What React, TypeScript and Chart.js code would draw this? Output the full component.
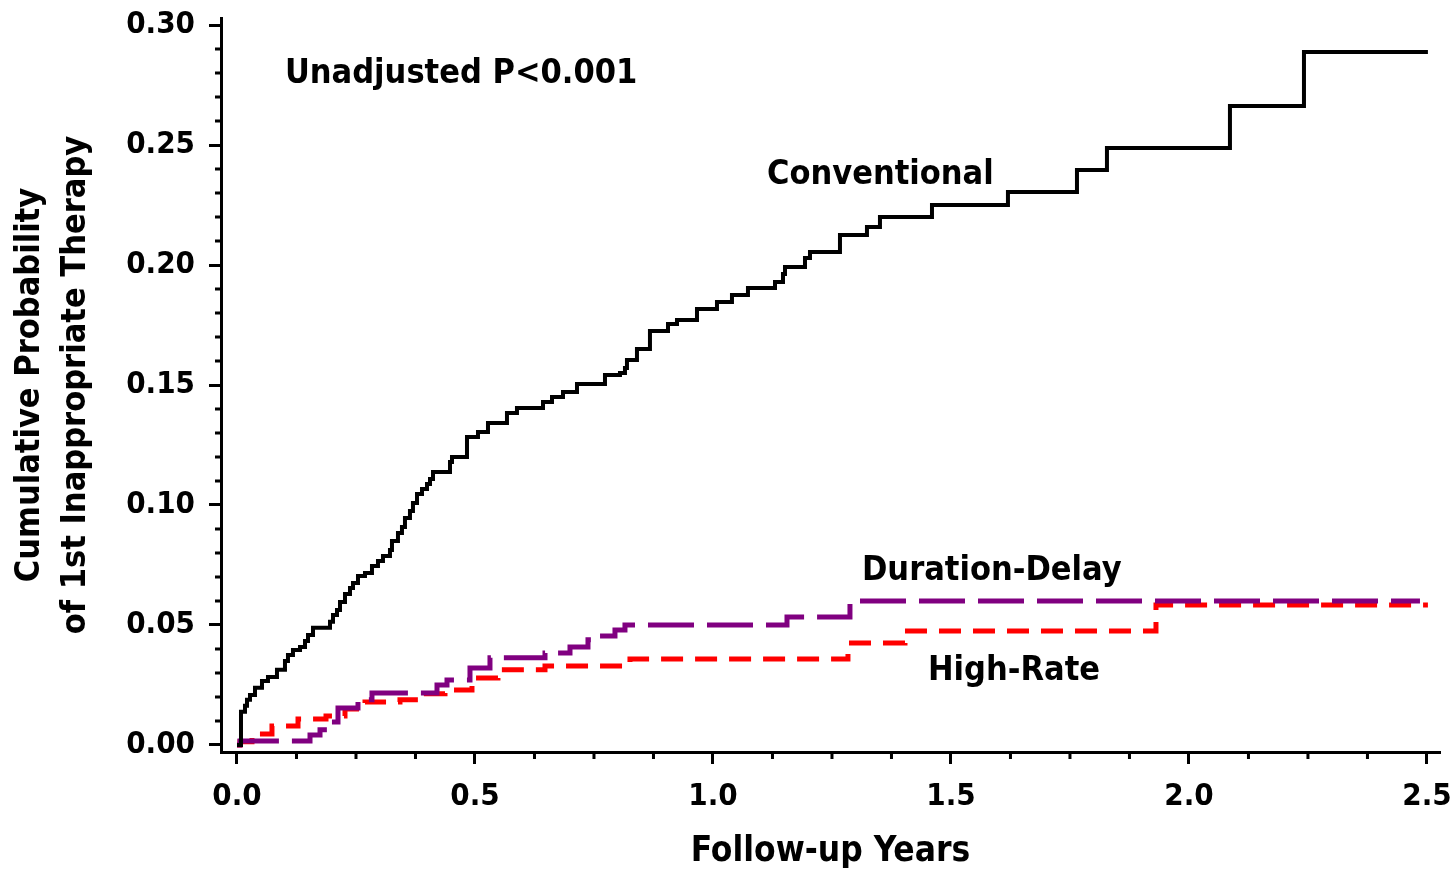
import React, { useEffect, useRef } from 'react';
import { Chart, registerables } from 'chart.js';

Chart.register(...registerables);

// ---------- data ----------
const conventionalTime = [0, 0.0084, 0.0168, 0.021, 0.0273, 0.0378, 0.0525, 0.0651, 0.084, 0.1008, 0.1071, 0.1176, 0.1324, 0.1429, 0.1492, 0.1597, 0.1954, 0.2017, 0.2101, 0.2164, 0.2269, 0.2374, 0.2437, 0.2542, 0.2689, 0.2836, 0.2962, 0.3067, 0.3214, 0.3256, 0.3382, 0.3466, 0.3529, 0.3634, 0.3697, 0.3782, 0.3887, 0.3992, 0.4055, 0.4118, 0.4475, 0.4517, 0.4832, 0.5063, 0.5273, 0.5672, 0.5882, 0.6429, 0.6618, 0.6849, 0.7143, 0.7731, 0.8046, 0.8151, 0.8193, 0.8403, 0.8676, 0.9055, 0.9244, 0.9664, 1.0084, 1.0399, 1.0735, 1.1303, 1.1471, 1.1513, 1.1933, 1.2038, 1.2668, 1.3235, 1.3508, 1.4601, 1.6197, 1.7647, 1.8277, 2.0861, 2.2416, 2.502];
const conventionalProb = [0, 0.0138, 0.0163, 0.0188, 0.0208, 0.0238, 0.0267, 0.0283, 0.0313, 0.035, 0.0375, 0.0396, 0.0408, 0.0433, 0.0458, 0.0488, 0.0513, 0.0542, 0.0563, 0.0596, 0.0629, 0.0654, 0.0675, 0.0704, 0.0717, 0.0746, 0.0767, 0.0788, 0.0813, 0.085, 0.0883, 0.0908, 0.0946, 0.0975, 0.1008, 0.1046, 0.1067, 0.1088, 0.1108, 0.1138, 0.1179, 0.12, 0.1283, 0.1304, 0.1342, 0.1383, 0.1404, 0.1429, 0.145, 0.1471, 0.1504, 0.1542, 0.155, 0.1571, 0.1604, 0.165, 0.1725, 0.1754, 0.1771, 0.1817, 0.1846, 0.1875, 0.1904, 0.1929, 0.1963, 0.1992, 0.2029, 0.2054, 0.2125, 0.2158, 0.22, 0.225, 0.2304, 0.2396, 0.2488, 0.2663, 0.2888, 0.2888];

const durationDelayTime = [0, 0.0063, 0.1534, 0.1744, 0.1891, 0.2122, 0.2542, 0.2836, 0.4202, 0.4412, 0.4895, 0.5315, 0.6471, 0.6996, 0.7374, 0.7626, 0.7941, 0.8151, 1.1555, 1.2878, 2.4853];
const durationDelayProb = [0, 0.0017, 0.0042, 0.0063, 0.0096, 0.0154, 0.0188, 0.0217, 0.025, 0.0271, 0.0321, 0.0363, 0.0383, 0.0408, 0.0438, 0.0454, 0.0479, 0.05, 0.0533, 0.06, 0.06];

const highRateTime = [0, 0.0063, 0.0315, 0.0735, 0.1282, 0.187, 0.2269, 0.2689, 0.3424, 0.3803, 0.437, 0.4937, 0.5483, 0.6471, 0.8256, 1.2836, 1.4034, 1.9307, 2.502];
const highRateProb = [0, 0.0013, 0.0046, 0.0079, 0.0108, 0.0121, 0.015, 0.0179, 0.0188, 0.0213, 0.0229, 0.0279, 0.0313, 0.0329, 0.0358, 0.0425, 0.0475, 0.0583, 0.0583];

const xMajorTicks = [0, 0.5, 1.0, 1.5, 2.0, 2.5];
const xMinorTicks = [0.125, 0.25, 0.375, 0.625, 0.75, 0.875, 1.125, 1.25, 1.375, 1.625, 1.75, 1.875, 2.125, 2.25, 2.375];
const yMajorTicks = [0, 0.05, 0.1, 0.15, 0.2, 0.25, 0.3];
const yMinorTicks = [0.01, 0.02, 0.03, 0.04, 0.06, 0.07, 0.08, 0.09, 0.11, 0.12, 0.13, 0.14, 0.16, 0.17, 0.18, 0.19, 0.21, 0.22, 0.23, 0.24, 0.26, 0.27, 0.28, 0.29];

const annotationTexts = ['Unadjusted P<0.001', 'Conventional', 'Duration-Delay', 'High-Rate'];
const annotationX = [0.1008, 1.1134, 1.313, 1.4517];
const annotationY = [0.2758, 0.2338, 0.0688, 0.0271];

const xTitle = 'Follow-up Years';
const yTitle = ['Cumulative Probability', 'of 1st Inappropriate Therapy'];

// ---------- styles ----------
const FONT = "'DejaVu Sans Condensed', 'Liberation Sans', Arial, sans-serif";

const pairs = (xs: number[], ys: number[]) => xs.map((x, i) => ({ x, y: ys[i] }));

const minorTickPlugin = {
  id: 'minorTicks',
  afterDraw(chart: any) {
    const { ctx, chartArea, scales } = chart;
    ctx.save();
    ctx.strokeStyle = '#000';
    ctx.lineWidth = 3;
    ctx.beginPath();
    yMinorTicks.forEach((v) => {
      const py = scales.y.getPixelForValue(v);
      ctx.moveTo(chartArea.left - 6, py);
      ctx.lineTo(chartArea.left, py);
    });
    xMinorTicks.forEach((v) => {
      const px = scales.x.getPixelForValue(v);
      ctx.moveTo(px, chartArea.bottom);
      ctx.lineTo(px, chartArea.bottom + 7);
    });
    ctx.stroke();
    ctx.restore();
  },
};

const annotationPlugin = {
  id: 'annotations',
  afterDatasetsDraw(chart: any) {
    const { ctx, scales } = chart;
    ctx.save();
    ctx.fillStyle = '#000';
    ctx.font = `bold 34px ${FONT}`;
    ctx.textAlign = 'left';
    ctx.textBaseline = 'alphabetic';
    annotationTexts.forEach((t, i) => {
      ctx.fillText(t, scales.x.getPixelForValue(annotationX[i]), scales.y.getPixelForValue(annotationY[i]));
    });
    ctx.restore();
  },
};

export default function App() {
  const ref = useRef<HTMLCanvasElement | null>(null);

  useEffect(() => {
    if (!ref.current) return;
    const chart = new Chart(ref.current, {
      type: 'line',
      data: {
        datasets: [
          {
            label: 'Conventional',
            data: pairs(conventionalTime, conventionalProb),
            borderColor: '#000000',
            borderWidth: 4,
            stepped: 'before',
            pointRadius: 0,
            fill: false,
            order: 0,
          },
          {
            label: 'Duration-Delay',
            data: pairs(durationDelayTime, durationDelayProb),
            borderColor: '#800080',
            borderWidth: 5,
            borderDash: [46, 13],
            stepped: 'before',
            pointRadius: 0,
            fill: false,
            order: 1,
          },
          {
            label: 'High-Rate',
            data: pairs(highRateTime, highRateProb),
            borderColor: '#ff0000',
            borderWidth: 5,
            borderDash: [22, 12],
            stepped: 'before',
            pointRadius: 0,
            fill: false,
            order: 2,
          },
        ],
      },
      options: {
        responsive: false,
        animation: false,
        devicePixelRatio: 1,
        layout: { padding: { top: 18, right: 16, left: 0, bottom: 0 } },
        plugins: {
          legend: { display: false },
          tooltip: { enabled: false },
        },
        scales: {
          x: {
            type: 'linear',
            min: -0.0336,
            max: 2.5274,
            afterBuildTicks: (s: any) => {
              s.ticks = xMajorTicks.map((v) => ({ value: v }));
            },
            afterFit: (s: any) => {
              s.height = 121;
              s.paddingLeft = 0;
              s.paddingRight = 0;
            },
            ticks: {
              autoSkip: false,
              maxRotation: 0,
              padding: 14,
              color: '#000',
              font: { family: FONT, size: 31, weight: 'bold' },
              callback: (v: any) => Number(v).toFixed(1),
            },
            grid: {
              display: true,
              drawOnChartArea: false,
              drawTicks: true,
              tickLength: 12,
              tickWidth: 3,
              tickColor: '#000',
            },
            border: { display: true, color: '#000', width: 3 },
            title: {
              display: true,
              text: xTitle,
              color: '#000',
              font: { family: FONT, size: 35, weight: 'bold', lineHeight: 1.2 },
              padding: { top: 0, bottom: 0 },
            },
          },
          y: {
            type: 'linear',
            min: -0.00292,
            max: 0.30292,
            afterBuildTicks: (s: any) => {
              s.ticks = yMajorTicks.map((v) => ({ value: v }));
            },
            afterFit: (s: any) => {
              s.width = 221;
              s.paddingTop = 0;
              s.paddingBottom = 0;
            },
            ticks: {
              autoSkip: false,
              padding: 14,
              color: '#000',
              font: { family: FONT, size: 31, weight: 'bold' },
              callback: (v: any) => Number(v).toFixed(2),
            },
            grid: {
              display: true,
              drawOnChartArea: false,
              drawTicks: true,
              tickLength: 12,
              tickWidth: 3,
              tickColor: '#000',
            },
            border: { display: true, color: '#000', width: 3 },
            title: {
              display: true,
              text: yTitle,
              color: '#000',
              font: { family: FONT, size: 34, weight: 'bold', lineHeight: 1.35 },
              padding: { top: 7, bottom: 0 },
            },
          },
        },
      } as any,
      plugins: [minorTickPlugin, annotationPlugin],
    });
    return () => chart.destroy();
  }, []);

  return (
    <div style={{ position: 'fixed', left: 0, top: 0, width: 1456, height: 873, background: '#fff' }}>
      <canvas ref={ref} width={1456} height={873} style={{ display: 'block' }} />
    </div>
  );
}
